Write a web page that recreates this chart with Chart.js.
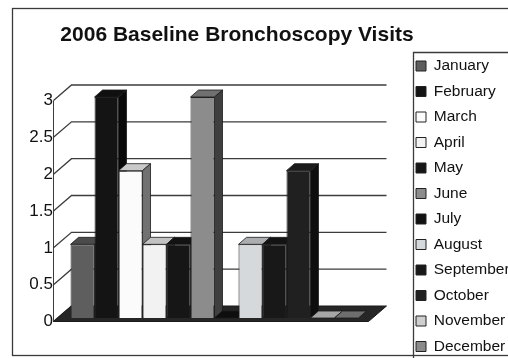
<!DOCTYPE html>
<html>
<head>
<meta charset="utf-8">
<script src="https://cdn.jsdelivr.net/npm/chart.js@4.4.1/dist/chart.umd.min.js"></script>
<style>
  html, body { margin: 0; padding: 0; background: #fff; }
  canvas { display: block; }
</style>
</head>
<body>
<canvas id="visits" width="508" height="358"></canvas>
<script>
// one bar per month, Excel-style 3D column chart
const months = ['January', 'February', 'March', 'April', 'May', 'June',
  'July', 'August', 'September', 'October', 'November', 'December'];
const visits = [1, 3, 2, 1, 1, 3, 0, 1, 1, 2, 0, 0];
const fills = ['#5e5e5e', '#141414', '#fbfbfb', '#f2f2f2', '#161616', '#8c8c8c',
  '#111111', '#d6d9dc', '#181818', '#202020', '#cfcfcf', '#8a8a8a'];
const yTicks = [0, 0.5, 1, 1.5, 2, 2.5, 3];

const FONT = "'Liberation Sans', Arial, sans-serif";
const depth = { dx: 8, dy: -7 };          // bar thickness going back
const axisShift = { dx: -3.5, dy: 3.5 };  // front axis plane vs. bar fronts
const wallShift = { dx: 18, dy: -15.5 };  // back wall vs. front axis plane

function shade(hex, k) {
  const n = parseInt(hex.slice(1), 16);
  const c = [(n >> 16) & 255, (n >> 8) & 255, n & 255].map(v => Math.round(v * k));
  return `rgb(${c[0]},${c[1]},${c[2]})`;
}

function poly(ctx, pts, fill) {
  ctx.beginPath();
  pts.forEach(([x, y], i) => (i ? ctx.lineTo(x, y) : ctx.moveTo(x, y)));
  ctx.closePath();
  ctx.fillStyle = fill;
  ctx.fill();
  ctx.stroke();
}

const box3d = {
  id: 'box3d',
  beforeDraw(chart) {
    // outer chart frame and legend frame
    const { ctx } = chart;
    ctx.save();
    ctx.strokeStyle = '#3a3a3a';
    ctx.lineWidth = 1.3;
    ctx.strokeRect(12.5, 8.5, 600, 347);
    ctx.beginPath();
    ctx.moveTo(413.5, 400);
    ctx.lineTo(413.5, 52.5);
    ctx.lineTo(600, 52.5);
    ctx.stroke();
    ctx.restore();
  },
  beforeDatasetsDraw(chart) {
    const { ctx, chartArea: a, scales: { y } } = chart;
    const fx0 = a.left + axisShift.dx, fx1 = a.right + axisShift.dx;
    const bx0 = fx0 + wallShift.dx, bx1 = fx1 + wallShift.dx;
    const f0 = y.getPixelForValue(0) + axisShift.dy;
    ctx.save();

    // back wall gridlines with the slanted tick connectors
    ctx.strokeStyle = '#3c3c3c';
    ctx.lineWidth = 1.3;
    y.ticks.forEach(t => {
      const fy = y.getPixelForValue(t.value) + axisShift.dy;
      const by = fy + wallShift.dy;
      ctx.beginPath();
      ctx.moveTo(fx0, fy);
      ctx.lineTo(bx0, by);
      if (t.value > 0) ctx.lineTo(bx1, by);
      ctx.stroke();
    });
    ctx.lineWidth = 1;
    ctx.beginPath();
    ctx.moveTo(fx0, y.getPixelForValue(y.max) + axisShift.dy);
    ctx.lineTo(fx0, f0);
    ctx.stroke();

    // floor
    ctx.strokeStyle = '#1a1a1a';
    poly(ctx, [[fx0, f0], [fx1, f0], [bx1, f0 + wallShift.dy], [bx0, f0 + wallShift.dy]], '#262626');

    // tops and right-hand sides, left to right so later bars overlap
    ctx.lineWidth = 0.8;
    chart.data.datasets.forEach((ds, i) => {
      const bar = chart.getDatasetMeta(i).data[0];
      const { x, y: top, base, width } = bar.getProps(['x', 'y', 'base', 'width'], true);
      const l = x - width / 2, r = x + width / 2;
      const { dx, dy } = depth;
      poly(ctx, [[l, top], [r, top], [r + dx, top + dy], [l + dx, top + dy]], shade(ds.backgroundColor, 0.8));
      if (base - top > 0.5) {
        poly(ctx, [[r, top], [r + dx, top + dy], [r + dx, base + dy], [r, base]], shade(ds.backgroundColor, 0.45));
      }
    });
    ctx.restore();
  }
};

new Chart(document.getElementById('visits'), {
  type: 'bar',
  data: {
    labels: [''],
    datasets: months.map((m, i) => ({
      label: m,
      data: [visits[i]],
      backgroundColor: fills[i],
      borderColor: '#222',
      borderWidth: 1
    }))
  },
  options: {
    responsive: false,
    animation: false,
    events: [],
    datasets: { bar: { categoryPercentage: 0.914, barPercentage: 1 } },
    // negative left/bottom so the title centres left of middle and the legend runs low
    layout: { padding: { top: 0, left: -34, right: 0, bottom: -6.25 } },
    plugins: {
      tooltip: { enabled: false },
      title: {
        display: true,
        text: '2006 Baseline Bronchoscopy Visits',
        color: '#111',
        font: { family: FONT, size: 21, weight: 'bold', lineHeight: 1.2 },
        padding: { top: 22.4, bottom: 49.4 }
      },
      legend: {
        position: 'right',
        align: 'end',
        maxWidth: 102,
        labels: {
          color: '#111',
          font: { family: FONT, size: 15.5 },
          boxWidth: 10,
          boxHeight: 10,
          padding: 10
        }
      }
    },
    scales: {
      x: {
        grid: { display: false },
        border: { display: false },
        ticks: { display: false },
        afterFit: s => { s.height = 46.25; }
      },
      y: {
        min: 0,
        max: 3,
        afterBuildTicks: s => { s.ticks = yTicks.map(v => ({ value: v })); },
        grid: { display: false, drawTicks: false },
        border: { display: false },
        ticks: {
          padding: 4,
          labelOffset: 3.5,
          color: '#111',
          font: { family: FONT, size: 17 },
          callback: v => String(v)
        },
        afterFit: s => { s.width = 91; }
      },
      // empty strip between plot and legend
      gap: {
        type: 'linear',
        position: 'right',
        grid: { display: false },
        border: { display: false },
        ticks: { display: false },
        afterFit: s => { s.width = 34; }
      }
    }
  },
  plugins: [box3d]
});
</script>
</body>
</html>
